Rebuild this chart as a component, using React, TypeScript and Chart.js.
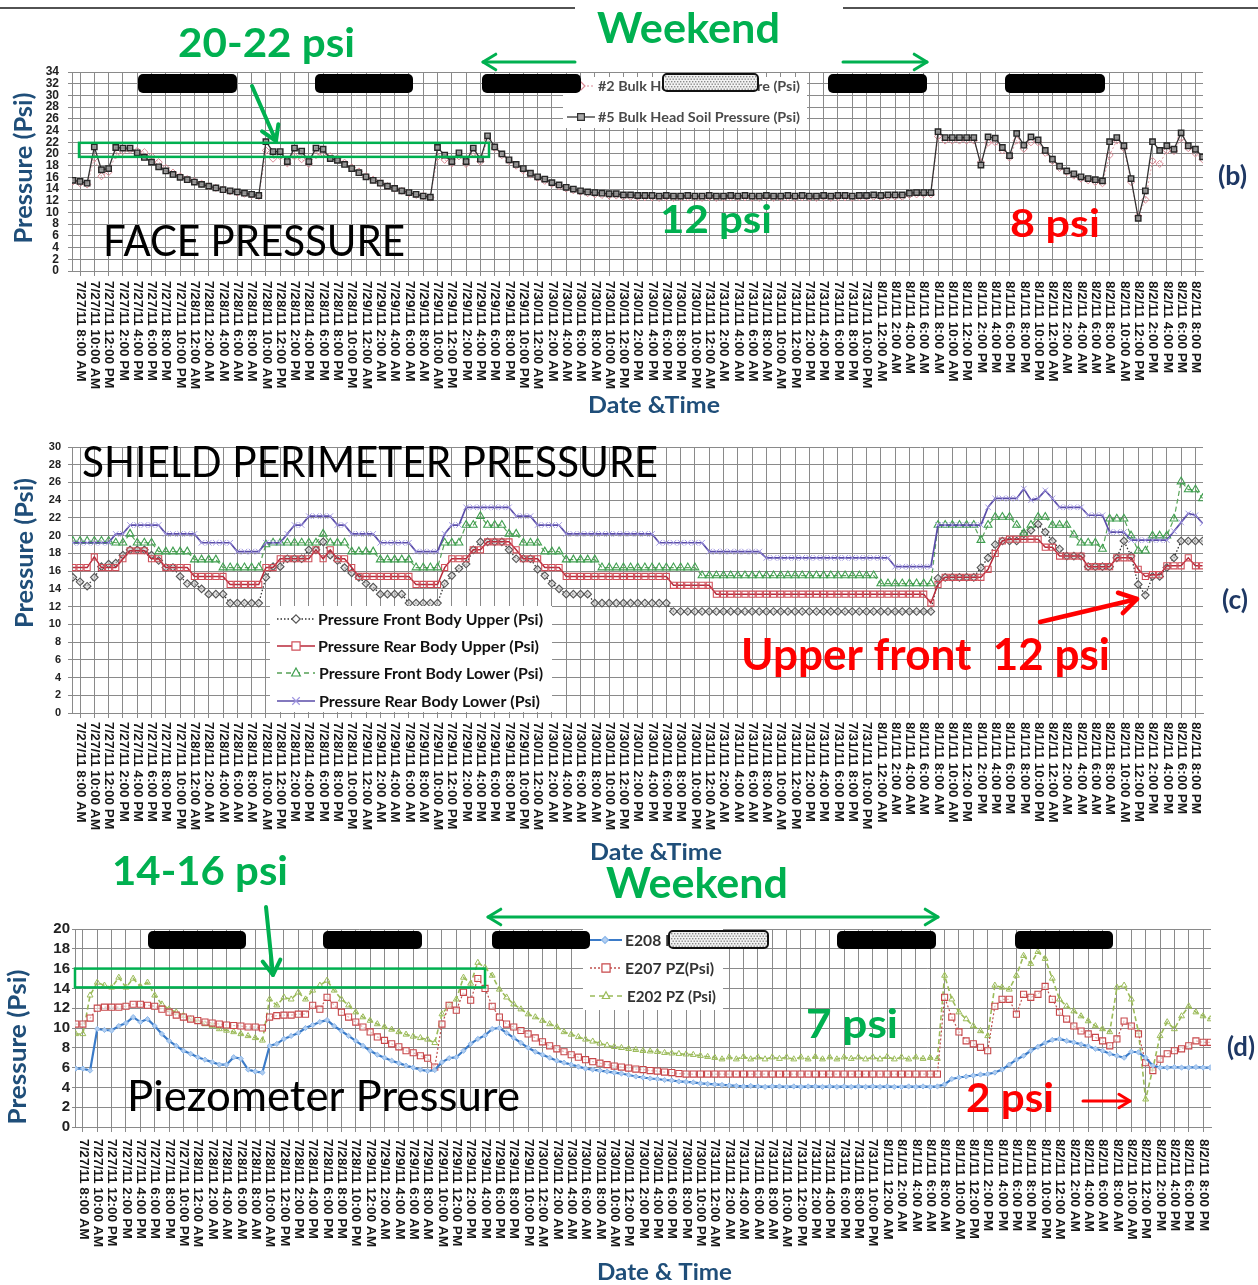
import { useEffect, useRef } from 'react';
import { Chart, registerables } from 'chart.js';

Chart.register(...registerables);

// ---------- axis labels (one every two hours) ----------
const TICK_LABELS = [
  '7/27/11 8:00 AM', '7/27/11 10:00 AM', '7/27/11 12:00 PM', '7/27/11 2:00 PM', '7/27/11 4:00 PM', '7/27/11 6:00 PM', '7/27/11 8:00 PM', '7/27/11 10:00 PM',
  '7/28/11 12:00 AM', '7/28/11 2:00 AM', '7/28/11 4:00 AM', '7/28/11 6:00 AM', '7/28/11 8:00 AM', '7/28/11 10:00 AM', '7/28/11 12:00 PM', '7/28/11 2:00 PM', '7/28/11 4:00 PM', '7/28/11 6:00 PM', '7/28/11 8:00 PM', '7/28/11 10:00 PM',
  '7/29/11 12:00 AM', '7/29/11 2:00 AM', '7/29/11 4:00 AM', '7/29/11 6:00 AM', '7/29/11 8:00 AM', '7/29/11 10:00 AM', '7/29/11 12:00 PM', '7/29/11 2:00 PM', '7/29/11 4:00 PM', '7/29/11 6:00 PM', '7/29/11 8:00 PM', '7/29/11 10:00 PM',
  '7/30/11 12:00 AM', '7/30/11 2:00 AM', '7/30/11 4:00 AM', '7/30/11 6:00 AM', '7/30/11 8:00 AM', '7/30/11 10:00 AM', '7/30/11 12:00 PM', '7/30/11 2:00 PM', '7/30/11 4:00 PM', '7/30/11 6:00 PM', '7/30/11 8:00 PM', '7/30/11 10:00 PM',
  '7/31/11 12:00 AM', '7/31/11 2:00 AM', '7/31/11 4:00 AM', '7/31/11 6:00 AM', '7/31/11 8:00 AM', '7/31/11 10:00 AM', '7/31/11 12:00 PM', '7/31/11 2:00 PM', '7/31/11 4:00 PM', '7/31/11 6:00 PM', '7/31/11 8:00 PM', '7/31/11 10:00 PM',
  '8/1/11 12:00 AM', '8/1/11 2:00 AM', '8/1/11 4:00 AM', '8/1/11 6:00 AM', '8/1/11 8:00 AM', '8/1/11 10:00 AM', '8/1/11 12:00 PM', '8/1/11 2:00 PM', '8/1/11 4:00 PM', '8/1/11 6:00 PM', '8/1/11 8:00 PM', '8/1/11 10:00 PM',
  '8/2/11 12:00 AM', '8/2/11 2:00 AM', '8/2/11 4:00 AM', '8/2/11 6:00 AM', '8/2/11 8:00 AM', '8/2/11 10:00 AM', '8/2/11 12:00 PM', '8/2/11 2:00 PM', '8/2/11 4:00 PM', '8/2/11 6:00 PM', '8/2/11 8:00 PM',
];
// readings are hourly, starting 7/27/11 7:00 AM (index = hours elapsed)
const FIRST_LABEL_HOUR = 1;
const LABEL_STEP_HOURS = 2;

// ---------- (b) face pressure ----------
const BULKHEAD_5 = [
  15.5, 15.3, 15.0, 21.2, 17.3, 17.5, 21.1, 21.0, 21.0, 20.2,
  19.4, 18.6, 17.8, 17.1, 16.5, 16.0, 15.6, 15.2, 14.8, 14.5,
  14.2, 13.9, 13.7, 13.5, 13.3, 13.1, 12.9, 22.1, 20.4, 20.4,
  18.7, 21.0, 20.5, 18.7, 21.0, 20.8, 19.2, 18.9, 18.2, 17.5,
  16.8, 16.1, 15.5, 15.0, 14.5, 14.1, 13.7, 13.4, 13.1, 12.8,
  12.6, 21.1, 19.8, 18.7, 20.2, 18.7, 21.0, 19.1, 23.1, 21.2,
  20.0, 19.0, 18.2, 17.5, 16.7, 16.1, 15.7, 15.1, 14.7, 14.3,
  14.0, 13.7, 13.5, 13.4, 13.3, 13.2, 13.2, 13.0, 13.0, 12.9,
  12.9, 12.9, 12.8, 12.9, 12.8, 12.8, 12.9, 12.8, 12.8, 12.9,
  12.8, 12.8, 12.9, 12.8, 12.9, 12.8, 12.8, 12.9, 12.8, 12.8,
  12.9, 12.8, 12.9, 12.8, 12.8, 12.9, 12.8, 12.9, 12.9, 12.8,
  12.9, 12.9, 13.0, 12.9, 13.0, 13.0, 13.0, 13.3, 13.4, 13.4,
  13.4, 23.8, 22.8, 22.8, 22.8, 22.8, 22.8, 18.1, 22.9, 22.7,
  21.1, 19.7, 23.5, 21.5, 22.9, 22.4, 20.6, 19.1, 17.9, 17.1,
  16.6, 16.1, 15.8, 15.6, 15.4, 22.1, 22.8, 21.4, 15.8, 9.0,
  13.7, 22.1, 20.6, 21.4, 20.8, 23.6, 21.4, 20.8, 19.5,
];
const BULKHEAD_2 = [
  15.3, 15.0, 14.8, 19.3, 16.2, 16.9, 19.8, 20.5, 20.7, 20.5,
  20.3, 19.6, 18.6, 17.6, 16.8, 16.2, 15.7, 15.3, 14.9, 14.5,
  14.2, 13.9, 13.6, 13.4, 13.2, 13.0, 12.8, 20.6, 19.2, 19.6,
  18.4, 19.6, 19.1, 18.3, 19.8, 20.1, 19.6, 19.2, 18.5, 17.7,
  17.0, 16.2, 15.6, 15.0, 14.5, 14.1, 13.7, 13.3, 13.0, 12.8,
  12.6, 19.5, 19.0, 18.4, 19.6, 18.3, 20.2, 18.7, 22.4, 21.0,
  19.8, 18.8, 18.0, 17.2, 16.5, 15.9, 15.4, 14.9, 14.5, 14.1,
  13.8, 13.5, 13.3, 13.1, 13.0, 12.9, 12.9, 12.7, 12.7, 12.6,
  12.6, 12.6, 12.5, 12.6, 12.5, 12.5, 12.6, 12.5, 12.5, 12.6,
  12.5, 12.5, 12.6, 12.5, 12.6, 12.5, 12.5, 12.6, 12.5, 12.5,
  12.6, 12.5, 12.6, 12.5, 12.5, 12.6, 12.5, 12.6, 12.6, 12.5,
  12.6, 12.6, 12.7, 12.6, 12.7, 12.7, 12.7, 13.0, 13.1, 13.1,
  13.1, 23.0, 22.3, 22.3, 22.3, 22.3, 22.3, 18.6, 21.9, 22.0,
  20.6, 19.4, 22.3, 20.9, 22.0, 22.0, 20.2, 18.8, 17.6, 16.9,
  16.3, 15.8, 15.5, 15.2, 15.0, 19.8, 22.3, 21.0, 15.2, 9.4,
  12.2, 18.8, 18.3, 20.6, 20.5, 22.7, 21.0, 20.1, 19.1,
];

// ---------- (c) shield perimeter pressure ----------
const FRONT_BODY_UPPER = [
  15.3, 14.8, 14.3, 15.3, 16.5, 16.8, 16.9, 17.8, 18.4, 18.4,
  18.4, 17.8, 17.2, 16.4, 16.4, 15.4, 14.6, 14.6, 14.0, 13.4,
  13.4, 13.4, 12.4, 12.4, 12.4, 12.4, 12.4, 15.3, 16.5, 16.5,
  17.4, 17.4, 17.4, 18.4, 18.4, 19.3, 17.8, 17.2, 16.4, 15.8,
  15.3, 14.6, 14.2, 13.4, 13.4, 13.4, 13.4, 12.4, 12.4, 12.4,
  12.4, 12.4, 14.6, 15.5, 16.3, 16.8, 18.4, 19.3, 19.3, 19.3,
  19.3, 18.4, 17.4, 17.4, 17.4, 16.2, 15.5, 14.6, 14.0, 13.4,
  13.4, 13.4, 13.4, 12.4, 12.4, 12.4, 12.4, 12.4, 12.4, 12.4,
  12.4, 12.4, 12.4, 12.4, 11.45, 11.45, 11.45, 11.45, 11.45, 11.45,
  11.45, 11.45, 11.45, 11.45, 11.45, 11.45, 11.45, 11.45, 11.45, 11.45,
  11.45, 11.45, 11.45, 11.45, 11.45, 11.45, 11.45, 11.45, 11.45, 11.45,
  11.45, 11.45, 11.45, 11.45, 11.45, 11.45, 11.45, 11.45, 11.45, 11.45,
  11.45, 15.2, 15.3, 15.3, 15.3, 15.3, 15.3, 16.4, 17.5, 19.0,
  19.4, 19.4, 19.4, 20.2, 20.6, 21.3, 20.4, 19.4, 18.5, 17.7,
  17.7, 17.7, 16.5, 16.5, 16.5, 16.5, 17.5, 19.4, 17.7, 14.5,
  13.3, 15.4, 15.4, 16.4, 17.5, 19.4, 19.4, 19.4, 19.4,
];
const REAR_BODY_UPPER = [
  16.4, 16.4, 16.4, 17.6, 16.4, 16.4, 16.4, 17.4, 18.3, 18.3,
  18.3, 17.4, 17.4, 16.4, 16.4, 16.4, 16.4, 15.4, 15.4, 15.4,
  15.4, 15.4, 14.5, 14.5, 14.5, 14.5, 14.5, 16.4, 16.4, 17.4,
  17.4, 17.4, 17.4, 17.4, 18.4, 17.4, 18.4, 17.4, 17.4, 16.4,
  15.4, 15.4, 15.4, 15.4, 15.4, 15.4, 15.4, 15.4, 14.5, 14.5,
  14.5, 14.5, 16.4, 17.4, 17.4, 17.4, 18.4, 18.4, 19.3, 19.3,
  19.3, 19.3, 18.4, 17.4, 17.4, 17.4, 16.4, 16.4, 16.4, 15.4,
  15.4, 15.4, 15.4, 15.4, 15.4, 15.4, 15.4, 15.4, 15.4, 15.4,
  15.4, 15.4, 15.4, 15.4, 14.4, 14.4, 14.4, 14.4, 14.4, 14.4,
  13.4, 13.4, 13.4, 13.4, 13.4, 13.4, 13.4, 13.4, 13.4, 13.4,
  13.4, 13.4, 13.4, 13.4, 13.4, 13.4, 13.4, 13.4, 13.4, 13.4,
  13.4, 13.4, 13.4, 13.4, 13.4, 13.4, 13.4, 13.4, 13.4, 13.4,
  12.4, 14.5, 15.3, 15.3, 15.3, 15.3, 15.3, 15.3, 16.2, 18.0,
  19.4, 19.6, 19.6, 19.6, 19.6, 19.6, 18.7, 18.7, 17.7, 17.7,
  17.7, 17.7, 16.5, 16.5, 16.5, 16.5, 17.5, 17.5, 17.5, 16.2,
  15.4, 15.6, 15.6, 16.6, 16.6, 16.6, 17.5, 16.6, 16.6,
];
const FRONT_BODY_LOWER = [
  19.4, 19.4, 19.4, 19.4, 19.4, 19.4, 19.2, 19.2, 20.2, 19.2,
  19.2, 19.2, 18.2, 18.2, 18.2, 18.2, 18.2, 17.3, 17.3, 17.3,
  17.3, 16.4, 16.4, 16.4, 16.4, 16.4, 16.4, 19.0, 19.2, 19.2,
  19.2, 19.2, 19.2, 19.2, 19.2, 20.2, 19.2, 19.2, 19.2, 18.2,
  18.2, 18.2, 18.2, 17.3, 17.3, 17.3, 17.3, 17.3, 16.4, 16.4,
  16.4, 16.4, 19.2, 19.2, 19.2, 21.2, 21.2, 22.2, 21.2, 21.2,
  21.2, 20.2, 20.2, 19.2, 19.2, 19.2, 18.2, 18.2, 18.2, 17.3,
  17.3, 17.3, 17.3, 17.3, 16.4, 16.4, 16.4, 16.4, 16.4, 16.4,
  16.4, 16.4, 16.4, 16.4, 16.4, 16.4, 16.4, 16.4, 15.5, 15.5,
  15.5, 15.5, 15.5, 15.5, 15.5, 15.5, 15.5, 15.5, 15.5, 15.5,
  15.5, 15.5, 15.5, 15.5, 15.5, 15.5, 15.5, 15.5, 15.5, 15.5,
  15.5, 15.5, 15.5, 14.6, 14.6, 14.6, 14.6, 14.6, 14.6, 14.6,
  14.6, 21.2, 21.2, 21.2, 21.2, 21.2, 21.2, 19.5, 21.2, 22.1,
  22.1, 22.1, 21.2, 20.3, 21.2, 22.1, 22.1, 21.2, 21.2, 21.2,
  20.1, 19.2, 19.2, 19.2, 18.5, 21.9, 21.9, 21.9, 20.0, 18.3,
  18.3, 20.0, 20.0, 20.0, 21.9, 26.1, 25.2, 25.2, 24.2,
];
const REAR_BODY_LOWER = [
  19.2, 19.2, 19.2, 19.2, 19.2, 19.2, 20.2, 20.2, 21.2, 21.2,
  21.2, 21.2, 21.2, 20.2, 20.2, 20.2, 20.2, 20.2, 19.2, 19.2,
  19.2, 19.2, 19.2, 18.2, 18.2, 18.2, 18.2, 19.2, 19.2, 19.2,
  20.2, 21.2, 21.2, 22.2, 22.2, 22.2, 22.2, 21.2, 21.2, 20.2,
  20.2, 20.2, 20.2, 19.2, 19.2, 19.2, 19.2, 19.2, 18.2, 18.2,
  18.2, 18.2, 20.2, 21.2, 21.2, 23.2, 23.2, 23.2, 23.2, 23.2,
  23.2, 23.2, 22.2, 22.2, 22.2, 21.2, 21.2, 21.2, 21.2, 20.2,
  20.2, 20.2, 20.2, 20.2, 20.2, 20.2, 20.2, 20.2, 20.2, 20.2,
  20.2, 20.2, 19.2, 19.2, 19.2, 19.2, 19.2, 19.2, 19.2, 18.2,
  18.2, 18.2, 18.2, 18.2, 18.2, 18.2, 18.2, 17.5, 17.5, 17.5,
  17.5, 17.5, 17.5, 17.5, 17.5, 17.5, 17.5, 17.5, 17.5, 17.5,
  17.5, 17.5, 17.5, 17.5, 17.5, 16.5, 16.5, 16.5, 16.5, 16.5,
  16.5, 21.2, 21.2, 21.2, 21.2, 21.2, 21.2, 21.2, 23.2, 24.2,
  24.2, 24.2, 24.2, 25.3, 24.0, 24.2, 25.1, 24.2, 23.2, 23.2,
  23.2, 23.2, 22.3, 22.3, 22.3, 20.4, 20.4, 20.4, 19.5, 19.5,
  19.5, 19.5, 19.5, 19.5, 20.5, 21.5, 22.5, 22.3, 21.4,
];

// ---------- (d) piezometer pressure ----------
const E208_PZ = [
  5.9, 5.9, 5.7, 9.9, 9.8, 9.75, 10.2, 10.5, 11.1, 10.6,
  10.9, 10.2, 9.4, 8.7, 8.2, 7.7, 7.4, 7.05, 6.8, 6.55,
  6.3, 6.3, 7.05, 6.9, 5.8, 5.6, 5.5, 8.2, 8.4, 8.9,
  9.2, 9.5, 10.0, 10.3, 10.6, 10.8, 10.2, 9.7, 9.2, 8.7,
  8.2, 7.7, 7.3, 7.0, 6.7, 6.45, 6.2, 6.0, 5.8, 5.65,
  5.75, 6.55, 6.95, 7.05, 7.7, 8.4, 8.9, 9.25, 9.9, 10.0,
  9.5, 9.0, 8.5, 8.0, 7.6, 7.3, 7.0, 6.7, 6.5, 6.3,
  6.1, 5.9, 5.8, 5.7, 5.6, 5.5, 5.4, 5.25, 5.1, 5.0,
  4.9, 4.85, 4.75, 4.7, 4.6, 4.55, 4.5, 4.4, 4.35, 4.3,
  4.25, 4.2, 4.15, 4.1, 4.15, 4.1, 4.05, 4.1, 4.1, 4.05,
  4.1, 4.05, 4.1, 4.1, 4.05, 4.1, 4.05, 4.1, 4.05, 4.1,
  4.05, 4.1, 4.05, 4.1, 4.05, 4.05, 4.1, 4.05, 4.1, 4.05,
  4.1, 4.3, 4.85, 5.0, 5.1, 5.2, 5.3, 5.35, 5.5, 5.8,
  6.3, 6.8, 7.2, 7.7, 8.1, 8.5, 8.8, 8.9, 8.7, 8.55,
  8.35, 8.15, 7.9, 7.7, 7.4, 7.2, 7.0, 7.6, 7.55, 7.0,
  6.2, 6.0, 6.0, 6.05, 6.0, 6.0, 6.05, 6.0, 6.0,
];
const E207_PZ = [
  10.4, 10.4, 11.0, 12.0, 12.1, 12.1, 12.1, 12.2, 12.4, 12.4,
  12.3, 12.2, 11.9, 11.6, 11.3, 11.1, 10.9, 10.75, 10.6, 10.5,
  10.4, 10.3, 10.25, 10.2, 10.1, 10.1, 10.0, 11.1, 11.25, 11.3,
  11.3, 11.4, 11.4, 12.3, 11.9, 13.1, 12.3, 11.6, 11.1, 10.6,
  10.1, 9.6, 9.1, 8.75, 8.4, 8.1, 7.7, 7.5, 7.2, 6.95,
  6.05, 10.4, 12.3, 11.8, 13.6, 12.8, 15.0, 14.0, 12.2, 11.1,
  10.4, 10.1, 9.75, 9.4, 9.0, 8.6, 8.2, 7.9, 7.6, 7.3,
  7.05, 6.8, 6.6, 6.45, 6.3, 6.15, 6.05, 5.95, 5.85, 5.8,
  5.7, 5.65, 5.55, 5.5, 5.4, 5.35, 5.35, 5.35, 5.35, 5.35,
  5.35, 5.35, 5.35, 5.35, 5.35, 5.35, 5.35, 5.35, 5.35, 5.35,
  5.35, 5.35, 5.35, 5.35, 5.35, 5.35, 5.35, 5.35, 5.35, 5.35,
  5.35, 5.35, 5.35, 5.35, 5.35, 5.35, 5.35, 5.35, 5.35, 5.35,
  5.35, 13.1, 11.1, 9.6, 8.7, 8.4, 8.05, 7.7, 12.2, 12.9,
  12.9, 11.4, 13.4, 13.1, 13.4, 14.2, 12.9, 11.6, 10.9, 10.2,
  9.7, 9.4, 9.05, 8.7, 8.2, 8.9, 10.7, 10.2, 9.4, 6.5,
  5.7, 6.85, 7.4, 7.7, 7.9, 8.2, 8.7, 8.55, 8.55,
];
const E202_PZ = [
  9.4, 9.4, 13.3, 14.6, 14.3, 14.1, 15.1, 14.1, 15.0, 14.2,
  14.6, 13.3, 12.4, 11.9, 11.6, 11.25, 10.9, 10.65, 10.4, 10.2,
  9.9, 9.75, 9.6, 9.4, 9.2, 9.0, 8.75, 12.9, 12.3, 13.1,
  12.9, 13.6, 12.9, 13.8, 14.3, 14.8, 13.8, 12.9, 12.3, 11.6,
  11.1, 10.75, 10.4, 10.1, 9.85, 9.6, 9.35, 9.15, 9.0, 8.85,
  8.5, 11.4, 12.3, 12.9, 15.1, 14.5, 16.6, 16.1, 15.3, 13.9,
  13.1, 12.4, 11.9, 11.4, 11.1, 10.75, 10.4, 10.1, 9.6, 9.35,
  9.1, 8.85, 8.65, 8.45, 8.25, 8.1, 8.0, 7.9, 7.8, 7.7,
  7.65, 7.6, 7.5, 7.45, 7.4, 7.35, 7.3, 7.2, 7.1, 7.0,
  6.85, 7.05, 6.85, 7.1, 6.85, 7.05, 6.85, 7.05, 6.9, 7.05,
  6.85, 7.05, 6.85, 7.1, 6.85, 7.05, 6.85, 7.05, 6.9, 7.05,
  6.85, 7.05, 6.85, 7.1, 6.85, 7.05, 6.85, 7.05, 6.9, 7.0,
  6.9, 15.3, 12.9, 11.6, 10.9, 10.2, 9.7, 9.2, 14.3, 14.1,
  13.9, 15.3, 17.3, 16.5, 17.7, 17.0, 15.0, 12.9, 12.2, 11.7,
  11.2, 10.7, 10.2, 9.9, 9.6, 14.1, 14.3, 12.9, 9.6, 2.8,
  5.9, 9.2, 10.6, 9.9, 11.2, 12.2, 11.6, 11.2, 10.9,
];

// highlighted pressure bands [psi] and their extent [hours]
const FACE_BAND_PSI = [19.5, 21.9];
const FACE_BAND_HOURS = [0.86, 58.2];
const PIEZO_BAND_PSI = [14.1, 16.0];
const PIEZO_BAND_HOURS = [-0.1, 57.0];

// ---------- styling ----------
const PAGE_W = 1258;
const PAGE_H = 1285;
const GRID = '#8a8a8a';
const GREEN = '#00b050';
const RED = '#ff0000';
const NAVY = '#1f4e79';
const SANS = 'Lato, "Open Sans", "DejaVu Sans", sans-serif';
const TICK_FAMILY = '"Liberation Sans", Arial, sans-serif';

type Ctx = CanvasRenderingContext2D;

function roundedPath(ctx: Ctx, x: number, y: number, w: number, h: number, r: number) {
  ctx.beginPath();
  ctx.moveTo(x + r, y);
  ctx.arcTo(x + w, y, x + w, y + h, r);
  ctx.arcTo(x + w, y + h, x, y + h, r);
  ctx.arcTo(x, y + h, x, y, r);
  ctx.arcTo(x, y, x + w, y, r);
  ctx.closePath();
}

function blackBars(ctx: Ctx, y: number, h: number, spans: number[][]) {
  ctx.save();
  ctx.fillStyle = '#000';
  spans.forEach(([a, b]) => {
    roundedPath(ctx, a, y, b - a, h, 5);
    ctx.fill();
  });
  ctx.restore();
}

function patternBox(ctx: Ctx, x: number, y: number, w: number, h: number) {
  ctx.save();
  roundedPath(ctx, x, y, w, h, 4);
  ctx.fillStyle = '#f2f2f2';
  ctx.fill();
  ctx.clip();
  ctx.fillStyle = '#8a8a8a';
  let row = 0;
  for (let yy = y + 2; yy < y + h - 1; yy += 2.5) {
    for (let xx = x + 2 + (row % 2) * 1.5; xx < x + w - 1; xx += 3) ctx.fillRect(xx, yy, 1.4, 1.4);
    row++;
  }
  ctx.restore();
  ctx.save();
  roundedPath(ctx, x, y, w, h, 4);
  ctx.lineWidth = 2;
  ctx.strokeStyle = '#111';
  ctx.stroke();
  ctx.restore();
}

function fitText(ctx: Ctx, text: string, x: number, baseline: number, width: number, font: string, color: string) {
  ctx.save();
  ctx.font = font;
  const w = ctx.measureText(text).width;
  ctx.translate(x, baseline);
  ctx.scale(width / w, 1);
  ctx.fillStyle = color;
  ctx.textAlign = 'left';
  ctx.textBaseline = 'alphabetic';
  ctx.fillText(text, 0, 0);
  ctx.restore();
}

function fitTextMid(ctx: Ctx, text: string, x: number, cy: number, width: number, font: string, color: string) {
  ctx.save();
  ctx.font = font;
  const w = ctx.measureText(text).width;
  ctx.translate(x, cy);
  ctx.scale(width / w, 1);
  ctx.fillStyle = color;
  ctx.textAlign = 'left';
  ctx.textBaseline = 'middle';
  ctx.fillText(text, 0, 0);
  ctx.restore();
}

function verticalTitle(ctx: Ctx, text: string, cx: number, cy: number, length: number) {
  ctx.save();
  ctx.font = `bold 25px ${SANS}`;
  const w = ctx.measureText(text).width;
  ctx.translate(cx, cy);
  ctx.rotate(-Math.PI / 2);
  ctx.scale(length / w, 1);
  ctx.fillStyle = NAVY;
  ctx.textAlign = 'center';
  ctx.textBaseline = 'middle';
  ctx.fillText(text, 0, 0);
  ctx.restore();
}

function arrow(ctx: Ctx, x1: number, y1: number, x2: number, y2: number, color: string, lw: number, head: number, both = false) {
  ctx.save();
  ctx.strokeStyle = color;
  ctx.lineWidth = lw;
  ctx.lineCap = 'round';
  ctx.lineJoin = 'round';
  ctx.beginPath();
  ctx.moveTo(x1, y1);
  ctx.lineTo(x2, y2);
  ctx.stroke();
  const tip = (tx: number, ty: number, ang: number) => {
    ctx.beginPath();
    ctx.moveTo(tx - head * Math.cos(ang - 0.55), ty - head * Math.sin(ang - 0.55));
    ctx.lineTo(tx, ty);
    ctx.lineTo(tx - head * Math.cos(ang + 0.55), ty - head * Math.sin(ang + 0.55));
    ctx.stroke();
  };
  const a = Math.atan2(y2 - y1, x2 - x1);
  tip(x2, y2, a);
  if (both) tip(x1, y1, a + Math.PI);
  ctx.restore();
}

function marker(ctx: Ctx, kind: string, x: number, y: number, r: number, stroke: string, fill: string | null, lw = 1.2) {
  ctx.save();
  ctx.beginPath();
  if (kind === 'diamond') {
    ctx.moveTo(x, y - r); ctx.lineTo(x + r, y); ctx.lineTo(x, y + r); ctx.lineTo(x - r, y); ctx.closePath();
  } else if (kind === 'square') {
    ctx.rect(x - r * 0.85, y - r * 0.85, r * 1.7, r * 1.7);
  } else if (kind === 'triangle') {
    ctx.moveTo(x, y - r); ctx.lineTo(x + r * 0.87, y + r * 0.6); ctx.lineTo(x - r * 0.87, y + r * 0.6); ctx.closePath();
  } else {
    const d = r * 0.75;
    ctx.moveTo(x - d, y - d); ctx.lineTo(x + d, y + d); ctx.moveTo(x + d, y - d); ctx.lineTo(x - d, y + d);
  }
  if (fill) { ctx.fillStyle = fill; ctx.fill(); }
  ctx.strokeStyle = stroke;
  ctx.lineWidth = lw;
  ctx.stroke();
  ctx.restore();
}

function legendLine(ctx: Ctx, x1: number, x2: number, y: number, color: string, lw: number, dash: number[]) {
  ctx.save();
  ctx.strokeStyle = color;
  ctx.lineWidth = lw;
  ctx.setLineDash(dash);
  ctx.beginPath();
  ctx.moveTo(x1, y);
  ctx.lineTo(x2, y);
  ctx.stroke();
  ctx.restore();
}

// rotated date/time labels, reading downward from the axis
function tickLabels(ctx: Ctx, X: (h: number) => number, top: number) {
  ctx.save();
  ctx.font = `bold 12px ${TICK_FAMILY}`;
  const stretch = 108 / ctx.measureText('7/27/11 10:00 AM').width;
  ctx.fillStyle = '#161616';
  ctx.textAlign = 'left';
  ctx.textBaseline = 'middle';
  TICK_LABELS.forEach((label, k) => {
    const x = X(FIRST_LABEL_HOUR + LABEL_STEP_HOURS * k);
    ctx.save();
    ctx.translate(x, top);
    ctx.rotate(Math.PI / 2);
    ctx.scale(stretch, 1);
    ctx.fillText(label, 0, 0);
    ctx.restore();
  });
  ctx.restore();
}

function band(ctx: Ctx, x1: number, y1: number, x2: number, y2: number) {
  ctx.save();
  ctx.strokeStyle = GREEN;
  ctx.lineWidth = 2.5;
  ctx.strokeRect(x1, y1, x2 - x1, y2 - y1);
  ctx.restore();
}

type Mapper = { X: (h: number) => number; Y: (v: number) => number };

function mappers(chart: any, off: number): Mapper {
  return {
    X: (h: number) => chart.scales.x.getPixelForValue(h),
    Y: (v: number) => chart.scales.y.getPixelForValue(v) + off,
  };
}

// ---------- panel (b) overlay ----------
function decorateFace(ctx: Ctx, chart: any, off: number) {
  const { X, Y } = mappers(chart, off);
  ctx.translate(0, -off);
  tickLabels(ctx, X, 281);

  band(ctx, X(FACE_BAND_HOURS[0]), Y(FACE_BAND_PSI[1]), X(FACE_BAND_HOURS[1]), Y(FACE_BAND_PSI[0]));

  // legend
  ctx.fillStyle = '#fff';
  ctx.fillRect(563, 77, 244, 51);
  legendLine(ctx, 567, 595, 86, '#d98a95', 1.2, [2, 2]);
  marker(ctx, 'diamond', 581, 86, 4, '#d98a95', '#fff');
  fitTextMid(ctx, '#2 Bulk Head Soil Pressure (Psi)', 598, 87, 202, `bold 13px ${SANS}`, '#4a4a4a');
  legendLine(ctx, 567, 595, 117, '#333', 1.3, []);
  marker(ctx, 'square', 581, 117, 4, '#2e2e2e', '#a8a8a8');
  fitTextMid(ctx, '#5 Bulk Head Soil Pressure (Psi)', 598, 118, 202, `bold 13px ${SANS}`, '#4a4a4a');

  blackBars(ctx, 74, 19, [[138, 237], [315, 413], [482, 581], [828, 927], [1005, 1105]]);
  patternBox(ctx, 663, 74, 95, 17);

  // top rule and weekend marker
  ctx.save();
  ctx.strokeStyle = '#1a1a1a';
  ctx.lineWidth = 1.5;
  ctx.beginPath();
  ctx.moveTo(0, 8); ctx.lineTo(575, 8);
  ctx.moveTo(843, 8); ctx.lineTo(PAGE_W, 8);
  ctx.stroke();
  ctx.restore();
  fitText(ctx, 'Weekend', 597, 43, 183, `bold 42px ${SANS}`, GREEN);
  arrow(ctx, 575, 62, 483, 62, GREEN, 3, 15);
  arrow(ctx, 843, 62, 927, 62, GREEN, 3, 15);

  fitText(ctx, '20-22 psi', 178, 57, 177, `bold 40px ${SANS}`, GREEN);
  arrow(ctx, 252, 86, 276, 141, GREEN, 4, 17);

  fitText(ctx, 'FACE PRESSURE', 103, 256, 302, `42px ${SANS}`, '#000');
  fitText(ctx, '12 psi', 660, 233, 112, `bold 39px ${SANS}`, GREEN);
  fitText(ctx, '8 psi', 1010, 237, 90, `bold 39px ${SANS}`, RED);
  fitText(ctx, '(b)', 1218, 185, 29, `bold 27px ${SANS}`, '#1f3864');
  verticalTitle(ctx, 'Pressure (Psi)', 24, 168, 151);
  fitText(ctx, 'Date &Time', 588, 413, 132, `bold 22px ${SANS}`, NAVY);
}

// ---------- panel (c) overlay ----------
function decorateShield(ctx: Ctx, chart: any, off: number) {
  const { X } = mappers(chart, off);
  ctx.translate(0, -off);
  tickLabels(ctx, X, 722);

  fitText(ctx, 'SHIELD PERIMETER PRESSURE', 82, 477, 576, `43px ${SANS}`, '#000');

  ctx.fillStyle = '#fff';
  ctx.fillRect(270, 606, 282, 106);
  const rows = [619, 646, 673, 701];
  legendLine(ctx, 277, 315, rows[0], '#333', 1.3, [1.5, 2]);
  marker(ctx, 'diamond', 296, rows[0], 4.2, '#555', 'rgba(255,255,255,0.9)');
  legendLine(ctx, 277, 315, rows[1], '#b8293a', 1.5, []);
  marker(ctx, 'square', 296, rows[1], 4.8, '#d0505a', '#fff');
  legendLine(ctx, 277, 315, rows[2], '#55a055', 1.3, [5, 4]);
  marker(ctx, 'triangle', 296, rows[2], 5, '#3f9f4f', '#fff');
  legendLine(ctx, 277, 315, rows[3], '#5a4ca8', 1.6, []);
  marker(ctx, 'cross', 296, rows[3], 5, '#9f95e0', null, 1.2);
  const font = `bold 15px ${SANS}`;
  fitTextMid(ctx, 'Pressure Front Body Upper (Psi)', 318, rows[0] + 1, 225, font, '#111');
  fitTextMid(ctx, 'Pressure Rear Body Upper (Psi)', 318, rows[1] + 1, 221, font, '#111');
  fitTextMid(ctx, 'Pressure Front Body Lower (Psi)', 319, rows[2] + 1, 224, font, '#111');
  fitTextMid(ctx, 'Pressure Rear Body Lower (Psi)', 319, rows[3] + 1, 221, font, '#111');

  fitText(ctx, 'Upper front  12 psi', 741, 670, 369, `bold 44px ${SANS}`, RED);
  arrow(ctx, 1040, 622, 1137, 599, RED, 4.5, 20);
  fitText(ctx, '(c)', 1222, 609, 26, `bold 27px ${SANS}`, '#1f3864');
  verticalTitle(ctx, 'Pressure (Psi)', 25, 553, 150);
  fitText(ctx, 'Date &Time', 590, 860, 132, `bold 22px ${SANS}`, NAVY);
}

// ---------- panel (d) overlay ----------
function decoratePiezo(ctx: Ctx, chart: any, off: number) {
  const { X, Y } = mappers(chart, off);
  ctx.translate(0, -off);
  tickLabels(ctx, X, 1139);

  band(ctx, X(PIEZO_BAND_HOURS[0]), Y(PIEZO_BAND_PSI[1]), X(PIEZO_BAND_HOURS[1]), Y(PIEZO_BAND_PSI[0]));

  ctx.fillStyle = '#fff';
  ctx.fillRect(583, 926, 140, 84);
  const rows = [940, 968, 996];
  legendLine(ctx, 590, 622, rows[0], '#3b7bc8', 2, []);
  marker(ctx, 'diamond', 605, rows[0], 3.5, '#8db8ea', '#b5d0f2');
  legendLine(ctx, 590, 622, rows[1], '#c0504d', 1.3, [2, 2]);
  marker(ctx, 'square', 606, rows[1], 4.8, '#c8474a', '#fff');
  legendLine(ctx, 590, 622, rows[2], '#9bbb59', 1.6, [5, 4]);
  marker(ctx, 'triangle', 606, rows[2], 4.2, '#9bbb59', '#fff');
  const font = `bold 16px ${SANS}`;
  fitTextMid(ctx, 'E208 PZ (Psi)', 625, rows[0] + 1, 92, font, '#333');
  fitTextMid(ctx, 'E207 PZ(Psi)', 625, rows[1] + 1, 89, font, '#333');
  fitTextMid(ctx, 'E202 PZ (Psi)', 627, rows[2] + 1, 89, font, '#333');

  blackBars(ctx, 931, 18, [[148, 246], [323, 422], [492, 590], [837, 936], [1015, 1113]]);
  patternBox(ctx, 669, 931, 99, 17);

  fitText(ctx, '14-16 psi', 112, 885, 176, `bold 40px ${SANS}`, GREEN);
  arrow(ctx, 266, 907, 273, 975, GREEN, 4, 17);
  fitText(ctx, 'Weekend', 606, 898, 182, `bold 42px ${SANS}`, GREEN);
  arrow(ctx, 488, 917, 938, 917, GREEN, 3, 15, true);

  fitText(ctx, 'Piezometer Pressure', 127, 1111, 393, `43px ${SANS}`, '#000');
  fitText(ctx, '7 psi', 806, 1038, 92, `bold 40px ${SANS}`, GREEN);
  fitText(ctx, '2 psi', 966, 1112, 88, `bold 40px ${SANS}`, RED);
  arrow(ctx, 1083, 1101, 1130, 1101, RED, 3, 13);
  fitText(ctx, '(d)', 1227, 1056, 28, `bold 27px ${SANS}`, '#1f3864');
  verticalTitle(ctx, 'Pressure (Psi)', 18, 1047, 155);
  fitText(ctx, 'Date & Time', 597, 1280, 135, `bold 22px ${SANS}`, NAVY);
}

// ---------- panel specs ----------
type SeriesSpec = { values: number[]; [k: string]: any };
type PanelSpec = {
  offsetTop: number; height: number;
  padTop: number; padRight: number; yWidth: number; xHeight: number;
  xMin: number; xMax: number; yMax: number;
  yFont: number; yPad: number; yTick: number;
  series: SeriesSpec[];
  decorate: (ctx: Ctx, chart: any, off: number) => void;
};

const FACE_PANEL: PanelSpec = {
  offsetTop: 0, height: 425,
  padTop: 72, padRight: 55, yWidth: 72, xHeight: 154,
  xMin: -0.12, xMax: 158.06, yMax: 34,
  yFont: 12, yPad: 9, yTick: 4,
  series: [
    { label: '#5 Bulk Head Soil Pressure (Psi)', values: BULKHEAD_5, order: 0,
      borderColor: '#333', borderWidth: 1.3, pointStyle: 'rect', pointRadius: 3.8,
      pointBackgroundColor: 'rgba(150,150,150,0.9)', pointBorderColor: '#262626', pointBorderWidth: 1.4 },
    { label: '#2 Bulk Head Soil Pressure (Psi)', values: BULKHEAD_2, order: 1,
      borderColor: '#e0a0a8', borderWidth: 1, borderDash: [2, 2], pointStyle: 'rectRot', pointRadius: 3.6,
      pointBackgroundColor: 'rgba(255,255,255,0)', pointBorderColor: '#d98a95', pointBorderWidth: 1 },
  ],
  decorate: decorateFace,
};

const SHIELD_PANEL: PanelSpec = {
  offsetTop: 425, height: 440,
  padTop: 22, padRight: 55, yWidth: 72, xHeight: 152,
  xMin: -0.12, xMax: 158.06, yMax: 30,
  yFont: 11, yPad: 7, yTick: 4,
  series: [
    { label: 'Pressure Rear Body Lower (Psi)', values: REAR_BODY_LOWER, order: 0,
      borderColor: '#5a4ca8', borderWidth: 1.7, pointStyle: 'crossRot', pointRadius: 4,
      pointBorderColor: '#a49be2', pointBorderWidth: 1 },
    { label: 'Pressure Front Body Lower (Psi)', values: FRONT_BODY_LOWER, order: 1,
      borderColor: '#5aa55a', borderWidth: 1.2, borderDash: [5, 3], pointStyle: 'triangle', pointRadius: 4.5,
      pointBackgroundColor: 'rgba(255,255,255,0)', pointBorderColor: '#3f9f4f', pointBorderWidth: 1.1 },
    { label: 'Pressure Rear Body Upper (Psi)', values: REAR_BODY_UPPER, order: 2,
      borderColor: '#b8293a', borderWidth: 1.5, pointStyle: 'rect', pointRadius: 4.3,
      pointBackgroundColor: 'rgba(255,255,255,0)', pointBorderColor: '#d0505a', pointBorderWidth: 1.1 },
    { label: 'Pressure Front Body Upper (Psi)', values: FRONT_BODY_UPPER, order: 3,
      borderColor: '#333', borderWidth: 1.3, borderDash: [1.5, 2], pointStyle: 'rectRot', pointRadius: 3.8,
      pointBackgroundColor: 'rgba(210,210,210,0.6)', pointBorderColor: '#555', pointBorderWidth: 1.1 },
  ],
  decorate: decorateShield,
};

const PIEZO_PANEL: PanelSpec = {
  offsetTop: 840, height: 445,
  padTop: 89, padRight: 47, yWidth: 75, xHeight: 158,
  xMin: -0.1, xMax: 158.1, yMax: 20,
  yFont: 15, yPad: 2, yTick: 3,
  series: [
    { label: 'E208 PZ (Psi)', values: E208_PZ, order: 0,
      borderColor: '#3b7bc8', borderWidth: 2.2, pointStyle: 'rectRot', pointRadius: 2.6,
      pointBackgroundColor: '#b0cdf0', pointBorderColor: '#8db8ea', pointBorderWidth: 1 },
    { label: 'E207 PZ(Psi)', values: E207_PZ, order: 1,
      borderColor: '#c0504d', borderWidth: 1.2, borderDash: [2, 2], pointStyle: 'rect', pointRadius: 4.3,
      pointBackgroundColor: 'rgba(255,255,255,0.6)', pointBorderColor: '#c8474a', pointBorderWidth: 1.1 },
    { label: 'E202 PZ (Psi)', values: E202_PZ, order: 2,
      borderColor: '#9bbb59', borderWidth: 1.6, borderDash: [5, 3], pointStyle: 'triangle', pointRadius: 3.4,
      pointBackgroundColor: 'rgba(255,255,255,0)', pointBorderColor: '#9bbb59', pointBorderWidth: 1 },
  ],
  decorate: decoratePiezo,
};

function buildConfig(spec: PanelSpec): any {
  return {
    type: 'line',
    data: {
      datasets: spec.series.map(({ values, ...style }) => ({
        ...style,
        data: values.map((v, i) => ({ x: i, y: v })),
        tension: 0,
        fill: false,
      })),
    },
    options: {
      responsive: false,
      animation: false,
      devicePixelRatio: 1,
      events: [],
      layout: { padding: { top: spec.padTop, right: spec.padRight, left: 0, bottom: 0 } },
      plugins: { legend: { display: false }, tooltip: { enabled: false } },
      scales: {
        x: {
          type: 'linear',
          bounds: 'data',
          min: spec.xMin,
          max: spec.xMax,
          afterBuildTicks: (s: any) => {
            s.ticks = TICK_LABELS.map((_, k) => ({ value: FIRST_LABEL_HOUR + LABEL_STEP_HOURS * k }));
          },
          afterFit: (s: any) => { s.height = spec.xHeight; },
          ticks: { display: false },
          grid: { color: GRID, lineWidth: 1, tickLength: 5 },
          border: { color: GRID, width: 1 },
        },
        y: {
          type: 'linear',
          min: 0,
          max: spec.yMax,
          afterFit: (s: any) => { s.width = spec.yWidth; },
          ticks: {
            stepSize: 2,
            autoSkip: false,
            padding: spec.yPad,
            color: '#222',
            font: { family: TICK_FAMILY, size: spec.yFont, weight: 'bold' },
          },
          grid: { color: GRID, lineWidth: 1, tickLength: spec.yTick },
          border: { color: GRID, width: 1 },
        },
      },
    },
    plugins: [{
      id: 'panelOverlay',
      afterDraw: (chart: any) => {
        const ctx = chart.ctx as Ctx;
        ctx.save();
        spec.decorate(ctx, chart, spec.offsetTop);
        ctx.restore();
      },
    }],
  };
}

function Panel({ spec }: { spec: PanelSpec }) {
  const ref = useRef<HTMLCanvasElement | null>(null);
  useEffect(() => {
    const canvas = ref.current;
    if (!canvas) return;
    const chart = new Chart(canvas, buildConfig(spec));
    return () => chart.destroy();
  }, [spec]);
  return (
    <canvas
      ref={ref}
      width={PAGE_W}
      height={spec.height}
      style={{ position: 'absolute', left: 0, top: spec.offsetTop, width: PAGE_W, height: spec.height }}
    />
  );
}

export default function App() {
  return (
    <div style={{ position: 'absolute', left: 0, top: 0, width: PAGE_W, height: PAGE_H, background: '#fff', overflow: 'hidden' }}>
      <Panel spec={FACE_PANEL} />
      <Panel spec={SHIELD_PANEL} />
      <Panel spec={PIEZO_PANEL} />
    </div>
  );
}
